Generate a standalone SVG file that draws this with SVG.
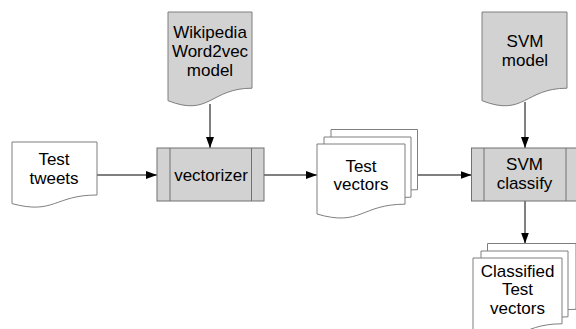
<svg xmlns="http://www.w3.org/2000/svg" width="576" height="329" viewBox="0 0 576 329">
<style>
.doc{stroke:#7f7f7f;stroke-width:1}
.gray{fill:#d2d2d2}
.white{fill:#ffffff}
.proc{fill:#d2d2d2;stroke:#707070;stroke-width:1}
.t{font-family:"Liberation Sans",Arial,sans-serif;font-size:17px;fill:#000;text-anchor:middle}
.c{stroke:#000;stroke-width:1;fill:none;marker-end:url(#ah)}
</style>
<defs>
<marker id="ah" markerWidth="11" markerHeight="8" refX="11" refY="4" orient="auto" markerUnits="userSpaceOnUse">
<path d="M0,0 L11,4 L0,8 Z" fill="#000"/>
</marker>
</defs>
<rect width="576" height="329" fill="#fff"/>
<g id="connectors">
<path class="c" d="M97,175 H157"/>
<path class="c" d="M210,104 V148"/>
<path class="c" d="M264,175 H317"/>
<path class="c" d="M417.5,175 H471.5"/>
<path class="c" d="M525,102 V148"/>
<path class="c" d="M525,201 V243.5"/>
</g>
<g id="wikipedia">
<path class="doc gray" d="M168,12 H252 V88.2 C210,88.2 210,117.2 168,100.7 Z"/>
<text class="t" x="210" y="38">Wikipedia</text>
<text class="t" x="210" y="57">Word2vec</text>
<text class="t" x="210" y="76">model</text>
</g>
<g id="test-tweets">
<path class="doc white" d="M12,142 H97 V195 C54.5,195 54.5,215 12,203.6 Z"/>
<text class="t" x="54" y="165">Test</text>
<text class="t" x="54" y="183.5">tweets</text>
</g>
<g id="vectorizer">
<rect class="proc" x="157" y="148" width="107" height="53"/>
<line class="proc" x1="170" y1="148" x2="170" y2="201"/>
<line class="proc" x1="251.5" y1="148" x2="251.5" y2="201"/>
<text class="t" x="211" y="181">vectorizer</text>
</g>
<g id="test-vectors">
<path class="doc white" d="M331,129.5 H417.5 V189.7 C374.2,189.7 374.2,212.5 331,199.5 Z"/>
<path class="doc white" d="M324,137 H411 V197.2 C367.5,197.2 367.5,220 324,207 Z"/>
<path class="doc white" d="M317,144 H405 V204.2 C361,204.2 361,227 317,214 Z"/>
<text class="t" x="361" y="171.5">Test</text>
<text class="t" x="361" y="189.5">vectors</text>
</g>
<g id="svm-model">
<path class="doc gray" d="M482,12 H567 V88.2 C524.5,88.2 524.5,117.2 482,100.7 Z"/>
<text class="t" x="525" y="47">SVM</text>
<text class="t" x="525" y="66">model</text>
</g>
<g id="svm-classify">
<rect class="proc" x="471.5" y="148" width="107" height="53"/>
<line class="proc" x1="484" y1="148" x2="484" y2="201"/>
<line class="proc" x1="566" y1="148" x2="566" y2="201"/>
<text class="t" x="524.5" y="170">SVM</text>
<text class="t" x="524.5" y="189">classify</text>
</g>
<g id="classified-test-vectors">
<path class="doc white" d="M487.5,243.5 H576 V309.3 C531.7,309.3 531.7,334.3 487.5,320.1 Z"/>
<path class="doc white" d="M481,251 H568 V316.8 C524.5,316.8 524.5,341.8 481,327.6 Z"/>
<path class="doc white" d="M473,258 H562 V323.8 C517.5,323.8 517.5,348.8 473,334.6 Z"/>
<text class="t" x="517.5" y="277">Classified</text>
<text class="t" x="517.5" y="295">Test</text>
<text class="t" x="517.5" y="313.5">vectors</text>
</g>
</svg>
